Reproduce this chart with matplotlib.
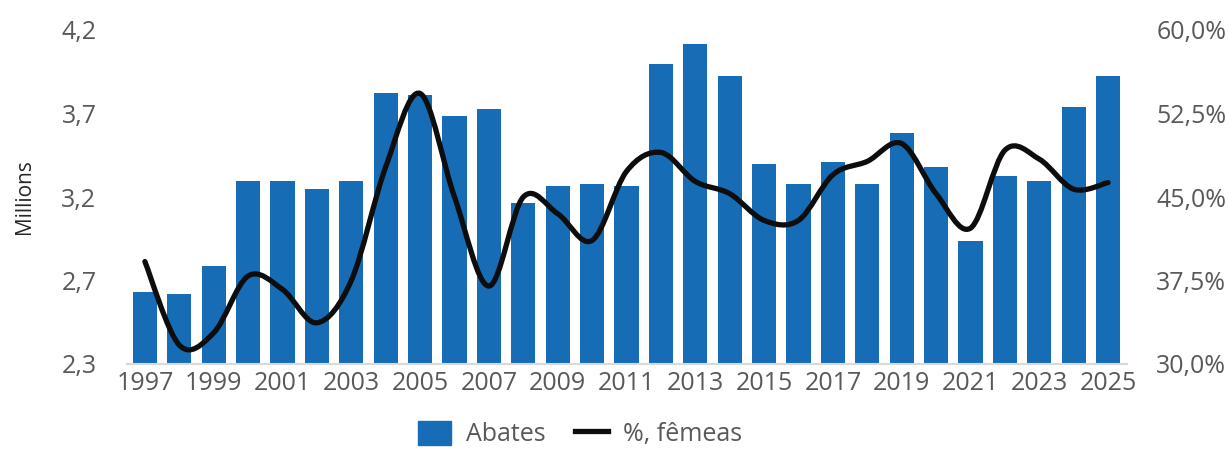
import matplotlib.pyplot as plt
from matplotlib.path import Path
from matplotlib.patches import PathPatch
from matplotlib.lines import Line2D
from matplotlib.patches import Patch

plt.rcParams['font.family'] = ['Open Sans', 'DejaVu Sans']

years = list(range(1997, 2026))
abates = [2.67, 2.66, 2.82, 3.32, 3.32, 3.27, 3.32, 3.83, 3.82, 3.70,
          3.74, 3.19, 3.29, 3.30, 3.29, 4.00, 4.12, 3.93, 3.42, 3.30,
          3.43, 3.30, 3.60, 3.40, 2.97, 3.35, 3.32, 3.75, 3.93]
femeas = [39.2, 31.7, 32.8, 37.9, 36.7, 33.7, 37.5, 47.7, 54.3, 45.0,
          37.0, 45.0, 43.5, 41.1, 47.3, 49.0, 46.4, 45.3, 42.9, 42.9,
          47.0, 48.2, 49.8, 45.3, 42.2, 49.2, 48.4, 45.7, 46.3]
left_ticks = ['2,3', '2,7', '3,2', '3,7', '4,2']
right_ticks = ['30,0%', '37,5%', '45,0%', '52,5%', '60,0%']

blue = '#166db5'
grey = '#595959'

fig = plt.figure(figsize=(12.28, 4.5), dpi=100)
ax = fig.add_axes([127 / 1228, 1 - 364 / 450, 1000 / 1228, 334 / 450])
x = list(range(len(years)))
ax.bar(x, abates, width=0.7, color=blue, zorder=2)
ax.set_xlim(-0.52, 28.55)
ax.set_ylim(2.25, 4.2)
ax.set_yticks([2.25 + i * 0.4875 for i in range(5)])
ax.set_yticklabels(left_ticks)
ax.set_xticks(x[::2])
ax.set_xticklabels([str(y) for y in years[::2]])
ax.tick_params(axis='y', length=0, pad=22, labelsize=18, labelcolor=grey)
ax.tick_params(axis='x', length=0, pad=5, labelsize=18, labelcolor=grey)
for s in ['left', 'right', 'top']:
    ax.spines[s].set_visible(False)
ax.spines['bottom'].set_color('#d9d9d9')
ax.spines['bottom'].set_linewidth(1.5)
ax.spines['bottom'].set_zorder(3)

ax2 = ax.twinx()
ax2.set_ylim(30, 60)
ax2.set_yticks([30, 37.5, 45, 52.5, 60])
ax2.set_yticklabels(right_ticks)
ax2.tick_params(axis='y', length=0, pad=21, labelsize=18, labelcolor=grey)
for s in ax2.spines.values():
    s.set_visible(False)

# smoothed line (Catmull-Rom style bezier, like Excel "smoothed line")
pts = list(zip(x, femeas))
verts = [pts[0]]
codes = [Path.MOVETO]
n = len(pts)
for i in range(n - 1):
    p0 = pts[i - 1] if i > 0 else pts[i]
    p1 = pts[i]
    p2 = pts[i + 1]
    p3 = pts[i + 2] if i + 2 < n else pts[i + 1]
    c1 = (p1[0] + (p2[0] - p0[0]) / 6, p1[1] + (p2[1] - p0[1]) / 6)
    c2 = (p2[0] - (p3[0] - p1[0]) / 6, p2[1] - (p3[1] - p1[1]) / 6)
    verts += [c1, c2, p2]
    codes += [Path.CURVE4] * 3
ax2.add_patch(PathPatch(Path(verts, codes), facecolor='none', edgecolor='#0d0d0d',
                        lw=3.8, capstyle='round', joinstyle='round', zorder=4))

fig.text(25 / 1228, 1 - 197 / 450, 'Millions', rotation=90, ha='center', va='center',
         fontsize=15, color='#262626')

handles = [Patch(color=blue), Line2D([], [], color='#0d0d0d', lw=3.8)]
fig.legend(handles, ['Abates', '%, fêmeas'], loc='center', ncol=2,
           bbox_to_anchor=(580 / 1228, 1 - 434 / 450), frameon=False,
           fontsize=18, labelcolor=grey, handlelength=1.3, handleheight=1.1,
           columnspacing=1.2, handletextpad=0.6, borderpad=0.1)

fig.savefig('out.png', dpi=100)
